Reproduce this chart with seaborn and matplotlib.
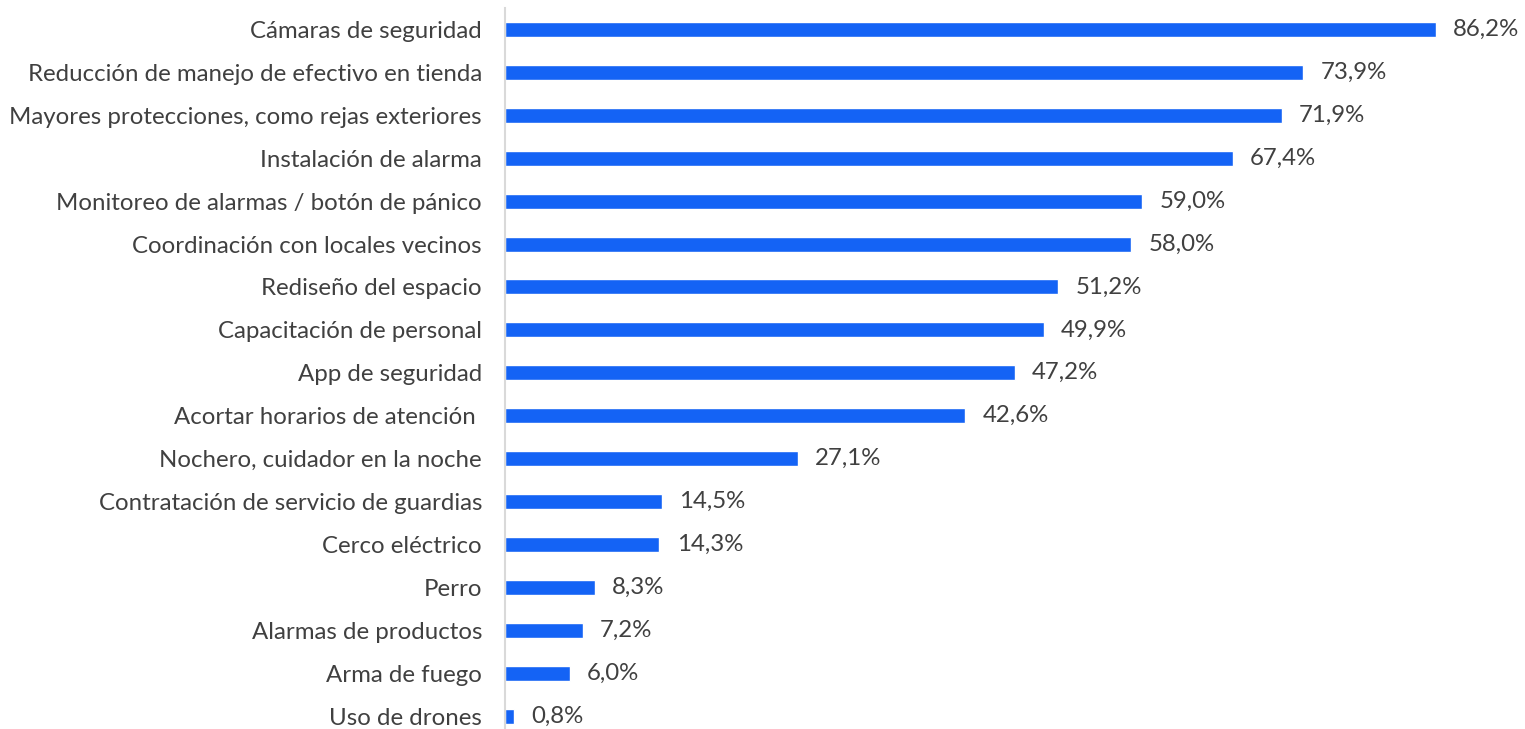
import pandas as pd
import matplotlib
matplotlib.use("Agg")
import matplotlib.pyplot as plt
import seaborn as sns

# Data
medidas = [
    "Cámaras de seguridad",
    "Reducción de manejo de efectivo en tienda",
    "Mayores protecciones, como rejas exteriores",
    "Instalación de alarma",
    "Monitoreo de alarmas / botón de pánico",
    "Coordinación con locales vecinos",
    "Rediseño del espacio",
    "Capacitación de personal",
    "App de seguridad",
    "Acortar horarios de atención ",
    "Nochero, cuidador en la noche",
    "Contratación de servicio de guardias",
    "Cerco eléctrico",
    "Perro",
    "Alarmas de productos",
    "Arma de fuego",
    "Uso de drones",
]
porcentajes = [86.2, 73.9, 71.9, 67.4, 59.0, 58.0, 51.2, 49.9, 47.2, 42.6,
               27.1, 14.5, 14.3, 8.3, 7.2, 6.0, 0.8]

df = pd.DataFrame({"medida": medidas, "pct": porcentajes})

sns.set_style("white")
plt.rcParams["font.family"] = ["Lato", "DejaVu Sans"]

W, H = 1525, 729
fig = plt.figure(figsize=(W / 100, H / 100), dpi=100)
ax = fig.add_axes([505 / W, 0, 1 - 505 / W, (729 - 8) / H])

sns.barplot(data=df, x="pct", y="medida", orient="h", color="#1463f5",
            saturation=1, width=0.35, ax=ax)

ax.set_xlim(0, 1020 / 10.8)
ax.set_ylim(16.30, -0.5)

txt = "#404040"
fs = 17.3
for i, v in enumerate(porcentajes):
    ax.text(v + 1.6, i, f"{v:.1f}%".replace(".", ","), va="center", ha="left",
            fontsize=fs, color=txt)

ax.set_xlabel("")
ax.set_ylabel("")
ax.set_xticks([])
ax.tick_params(axis="y", length=0, pad=16.5, labelsize=fs, labelcolor=txt)
for s in ["top", "right", "bottom"]:
    ax.spines[s].set_visible(False)
ax.spines["left"].set_color("#d9d9d9")
ax.spines["left"].set_linewidth(1.5)

fig.savefig("out.png", dpi=100)
